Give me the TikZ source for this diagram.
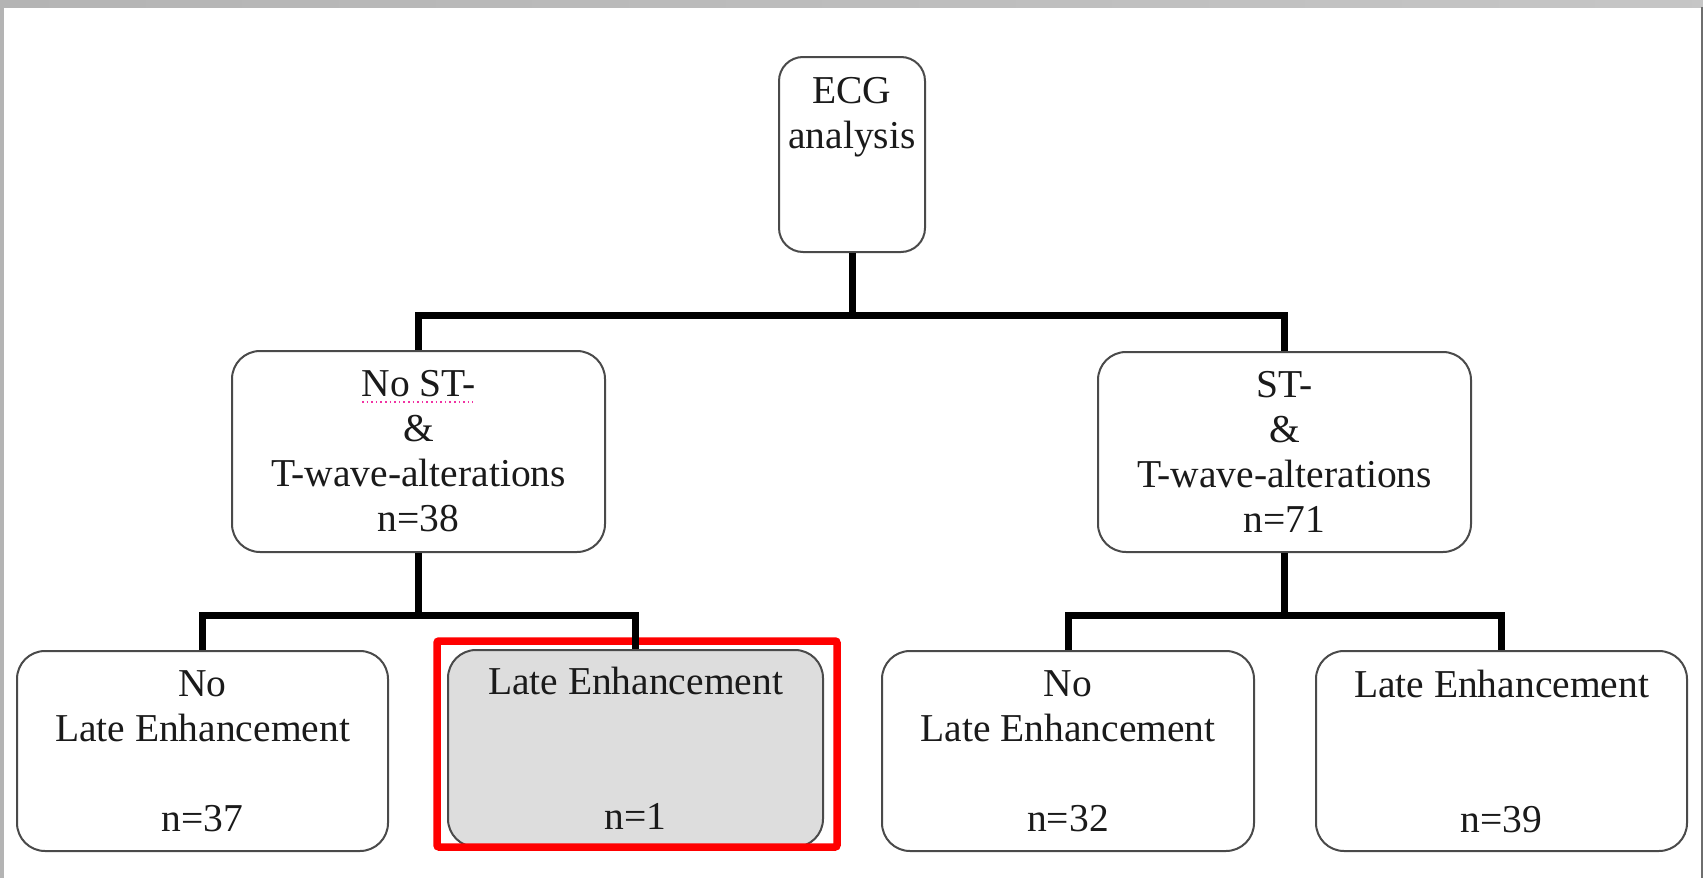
\documentclass[tikz,border=0pt]{standalone}
\usepackage{fontspec}
\setmainfont{Liberation Serif}
\definecolor{boxgray}{HTML}{4A4A4A}
\definecolor{txt}{HTML}{1A1A1A}
\definecolor{fillgray}{HTML}{DDDDDD}
\definecolor{frameL}{HTML}{B4B4B4}
\definecolor{frameR}{HTML}{6E6E6E}
\begin{document}
\begin{tikzpicture}[x=1pt,y=-1pt,
  box/.style={draw=boxgray, line width=2pt, rounded corners=28pt, fill=white,
    inner sep=0pt, align=center, text=txt, font=\fontsize{39.5}{45}\selectfont},
  lbl/.style={inner sep=0pt, align=center, text=txt, font=\fontsize{39.5}{45}\selectfont},
  conn/.style={line width=7pt, line join=miter, black},
  hilite/.style={draw=red, line width=7.5pt, rounded corners=2pt, inner sep=0pt}]
\useasboundingbox (0,0) rectangle (1703,878);
% frame of the screenshot
\shade[left color=frameL, middle color=gray!6, right color=gray!45] (0,0) rectangle (1703,7);
\fill[frameL] (0,7) rectangle (3.5,878);
\fill[frameR] (1701,7) rectangle (1703,878);
% boxes
\node[box, minimum width=146pt, minimum height=195pt, rounded corners=24pt] (ecg) at (852,154.5) {};
\node[lbl, anchor=north] (ecgt) at (852,77) {ECG\\analysis};
\node[box, minimum width=373pt, minimum height=201pt] (lmid) at (418.5,451.5)
  {No ST-\\\&\\T-wave-alterations\\n=38};
\node[box, minimum width=373pt, minimum height=200pt] (rmid) at (1284.5,452)
  {ST-\\\&\\T-wave-alterations\\n=71};
\node[box, minimum width=371pt, minimum height=200pt] (b1) at (202.5,751)
  {No\\Late Enhancement\\\mbox{}\\n=37};
\node[box, fill=fillgray, minimum width=375pt, minimum height=197pt] (b2) at (635.5,748.5)
  {Late Enhancement\\\mbox{}\\\mbox{}\\n=1};
\node[box, minimum width=372pt, minimum height=200pt] (b3) at (1068,751)
  {No\\Late Enhancement\\\mbox{}\\n=32};
\node[box, minimum width=371pt, minimum height=200pt] (b4) at (1501.5,751)
  {Late Enhancement\\\mbox{}\\\mbox{}\\n=39};
% spelling underline
\coordinate (ulA) at (362,402);
\coordinate (ulB) at (473,402);
\draw[magenta!80, line width=1.6pt, dash pattern=on 1.6pt off 3pt] (ulA) -- (ulB);
% highlight
\node[hilite, minimum width=400pt, minimum height=206pt] (hl) at (637,744) {};
% connectors
\coordinate (j0) at (852,315);
\coordinate (j1) at (418.5,615);
\coordinate (j2) at (1284.5,615);
\draw[conn] (ecg.south) -- (j0);
\draw[conn] (lmid.north) |- (j0) -| (rmid.north);
\draw[conn] (lmid.south) -- (j1);
\draw[conn] (b1.north) |- (j1) -| (b2.north);
\draw[conn] (rmid.south) -- (j2);
\draw[conn] (b3.north) |- (j2) -| (b4.north);
\end{tikzpicture}
\end{document}
